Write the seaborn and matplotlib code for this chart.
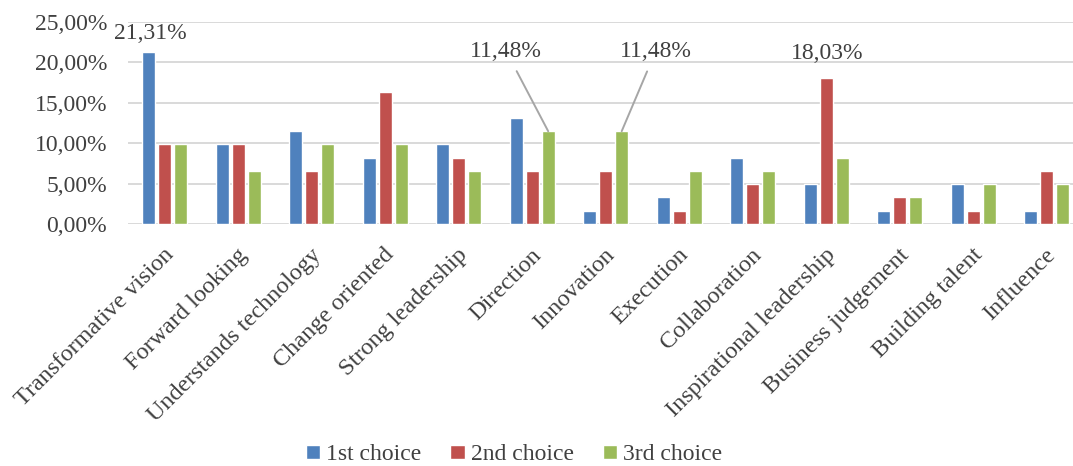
import seaborn as sns
import matplotlib.pyplot as plt
import matplotlib.transforms as mtransforms
import pandas as pd
from matplotlib.ticker import FuncFormatter

# data (percent of respondents)
traits = ["Transformative vision", "Forward looking", "Understands technology",
          "Change oriented", "Strong leadership", "Direction", "Innovation",
          "Execution", "Collaboration", "Inspirational leadership",
          "Business judgement", "Building talent", "Influence"]
first_choice = [21.31, 9.84, 11.48, 8.20, 9.84, 13.11, 1.64, 3.28, 8.20, 4.92, 1.64, 4.92, 1.64]
second_choice = [9.84, 9.84, 6.56, 16.39, 8.20, 6.56, 6.56, 1.64, 4.92, 18.03, 3.28, 1.64, 6.56]
third_choice = [9.84, 6.56, 9.84, 9.84, 6.56, 11.48, 11.48, 6.56, 6.56, 8.20, 3.28, 4.92, 4.92]
choices = ["1st choice", "2nd choice", "3rd choice"]
colors = ["#4F81BD", "#C0504D", "#9BBB59"]

series = [first_choice, second_choice, third_choice]
df = pd.DataFrame({
    "trait": traits * 3,
    "share": first_choice + second_choice + third_choice,
    "choice": [c for c in choices for _ in traits],
})

sns.set_style("white")
plt.rcParams["font.family"] = ["Liberation Serif", "DejaVu Serif"]
text_col = "#404040"

fig = plt.figure(figsize=(10.73, 4.66), dpi=100)
ax = fig.add_axes([128 / 1073, 1 - 224 / 466, 1 - 128 / 1073, (224 - 22) / 466])

sns.barplot(data=df, x="trait", y="share", hue="choice", palette=colors,
            width=0.655, gap=0.19, saturation=1, ax=ax)

ax.set_ylim(0, 25)
ax.set_yticks(range(0, 26, 5))
ax.yaxis.set_major_formatter(FuncFormatter(lambda v, p: f"{v:.2f}%".replace(".", ",")))
ax.set_xlim(-0.5, 12.36)
ax.yaxis.grid(True, color="#D9D9D9", lw=1.4)
ax.set_axisbelow(True)
for s in ax.spines.values():
    s.set_visible(False)
ax.set_xlabel("")
ax.set_ylabel("")
ax.tick_params(axis="x", length=0, labelsize=17.5, colors=text_col, pad=20)
ax.tick_params(axis="y", length=0, labelsize=17, colors=text_col, pad=15)
shift = mtransforms.ScaledTranslation(0.06, 0, fig.dpi_scale_trans)
for lab in ax.get_xticklabels():
    lab.set_rotation(45)
    lab.set_ha("right")
    lab.set_va("center")
    lab.set_rotation_mode("anchor")
    lab.set_transform(lab.get_transform() + shift)

# value labels: (series index, category index, offset in px, leader line)
callouts = [(0, 0, (2, 18), False), (2, 5, (-42, 80), True),
            (2, 6, (34, 80), True), (1, 9, (1, 25), False)]
for k, i, off, leader in callouts:
    bar = ax.containers[k][i]
    x = bar.get_x() + bar.get_width() / 2
    y = bar.get_height()
    ax.annotate(f"{series[k][i]:.2f}%".replace(".", ","), xy=(x, y), xytext=off,
                textcoords="offset pixels", ha="center", va="center",
                fontsize=17, color=text_col,
                arrowprops=dict(arrowstyle="-", color="#A6A6A6", lw=1.4,
                                shrinkA=5, shrinkB=0) if leader else None)

leg = ax.legend(loc="center", bbox_to_anchor=(0.479, 0.024), bbox_transform=fig.transFigure,
                ncol=3, frameon=False, fontsize=17, handlelength=0.55, handleheight=0.55,
                columnspacing=1.25, handletextpad=0.3)
for t in leg.get_texts():
    t.set_color(text_col)
for h in leg.legend_handles:
    h.set_width(h.get_height())

fig.savefig("out.png", dpi=100)
